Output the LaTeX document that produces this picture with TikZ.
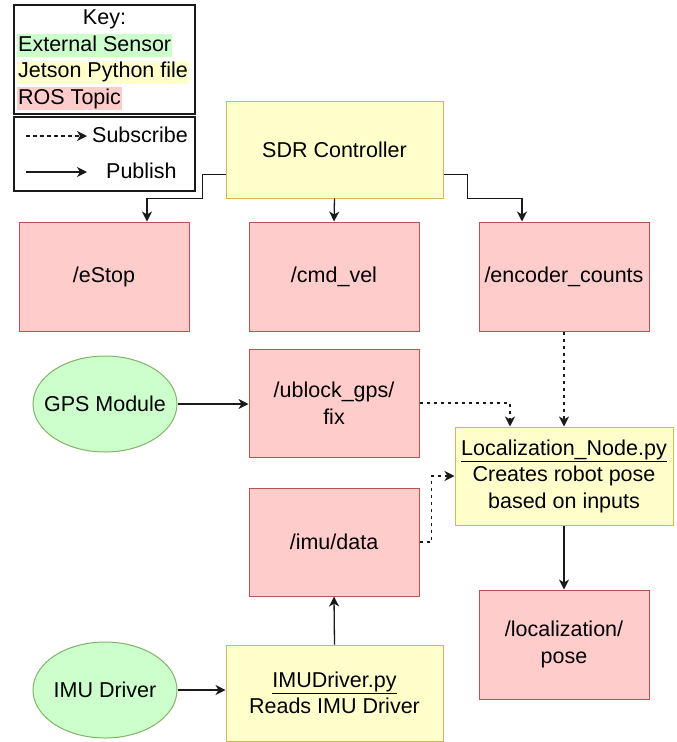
\documentclass[tikz,border=0pt]{standalone}
\usepackage{fontspec}
\setmainfont{Liberation Sans}
\usetikzlibrary{arrows.meta,shapes.geometric}

\definecolor{topicfill}{HTML}{FFCCCC}
\definecolor{topicline}{HTML}{B85450}
\definecolor{pyfill}{HTML}{FFFFCC}
\definecolor{pyline}{HTML}{D6B656}
\definecolor{sensorfill}{HTML}{CCFFCC}
\definecolor{sensorline}{HTML}{82B366}
\definecolor{wire}{HTML}{1A1A1A}

\newcommand\diafont{\fontsize{21.5pt}{26.5pt}\selectfont}

\tikzset{
  every node/.style={font=\diafont, text=black},
  topic/.style={draw=topicline, fill=topicfill, line width=1pt,
    minimum width=170pt, minimum height=109pt, align=center, inner sep=0pt},
  pyfile/.style={draw=pyline, fill=pyfill, line width=1pt,
    align=center, inner sep=0pt},
  sensor/.style={ellipse, draw=sensorline, fill=sensorfill, line width=1pt,
    minimum width=144pt, minimum height=96pt, inner sep=0pt},
  keyframe/.style={draw=wire, line width=1.2pt, minimum width=181pt, inner sep=0pt},
  keyswatch/.style={anchor=west, inner xsep=1pt, inner ysep=1pt,
    text height=16pt, text depth=5pt},
  pub/.style={draw=wire, line width=1.3pt,
    -{Stealth[length=10pt,width=10pt,inset=3pt]}},
  sub/.style={pub, dash pattern=on 3.5pt off 3.5pt},
}

% label of fixed zero width, so the ellipse keeps its set size
\newcommand\flatlabel[1]{\makebox[0pt]{#1}}

\begin{document}
\begin{tikzpicture}[x=1pt,y=-1pt]
\useasboundingbox (0,0) rectangle (677,742);

% legend
\node[keyframe, minimum height=109pt] (keybox) at (104.5,59.5) {};
\node (keytitle) at (104.5,19) {Key:};
\node[keyswatch, fill=sensorfill] (ksensor) at (17,45.5) {External Sensor};
\node[keyswatch, fill=pyfill] (kpy) at (17,72) {Jetson Python file};
\node[keyswatch, fill=topicfill] (ktopic) at (17,98.5) {ROS Topic};

\node[keyframe, minimum height=74pt] (linebox) at (104.5,154) {};
\coordinate (subA) at (26,136);
\coordinate (subB) at (87,136);
\coordinate (pubA) at (26,172);
\coordinate (pubB) at (87,172);
\draw[sub] (subA) -- (subB);
\draw[pub] (pubA) -- (pubB);
\node[anchor=west, inner sep=0pt] (subtxt) at (92,135) {Subscribe};
\node[anchor=west, inner sep=0pt] (pubtxt) at (106,171) {Publish};

% nodes
\node[pyfile, minimum width=217pt, minimum height=97pt] (sdr) at (334.5,149.5) {SDR Controller};

\node[topic] (estop) at (104,276.5) {/eStop};
\node[topic] (cmdvel) at (334,276.5) {/cmd\_vel};
\node[topic] (enc) at (564,276.5) {/encoder\_counts};

\node[sensor] (gps) at (105,404) {\flatlabel{GPS Module}};
\node[topic, minimum height=108pt] (ublock) at (334,403) {/ublock\_gps/\\fix};

\node[pyfile, minimum width=218pt, minimum height=98pt] (loc) at (564,476)
  {\underline{Localization\_Node.py}\\Creates robot pose\\based on inputs};

\node[topic, minimum height=108pt] (imu) at (334,542) {/imu/data};
\node[topic] (locpose) at (564,644.5) {/localization/\\pose};

\node[sensor] (imudrv) at (105,690) {\flatlabel{IMU Driver}};
\node[pyfile, minimum width=217pt, minimum height=96pt] (imupy) at (334.5,693)
  {\underline{IMUDriver.py}\\Reads IMU Driver};

% publish connectors
\draw[pub] ([yshift=24pt]sdr.south west) -- ++(-23,0) -- ++(0,24)
  -| ([xshift=43pt]estop.north);
\draw[pub] (sdr.south) -- (cmdvel.north);
\draw[pub] ([yshift=24pt]sdr.south east) -- ++(24,0) -- ++(0,24)
  -| ([xshift=-42pt]enc.north);
\draw[pub] (gps.east) -- (ublock.west |- gps.east);
\draw[pub] (loc.south) -- (locpose.north);
\draw[pub] (imudrv.east) -- (imupy.west |- imudrv.east);
\draw[pub] (imupy.north) -- (imu.south);

% subscribe connectors
\draw[sub] (ublock.east) -| ([xshift=-54pt]loc.north);
\draw[sub] (enc.south) -- (loc.north);
\draw[sub] (imu.east) -- ++(12,0) |- (loc.west);
\end{tikzpicture}
\end{document}
